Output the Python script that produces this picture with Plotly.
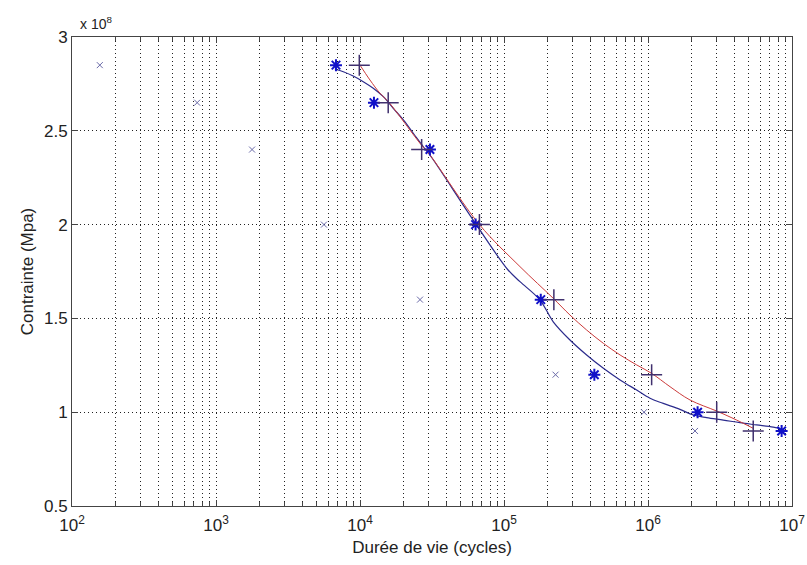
import plotly.graph_objects as go

# raw test points (small x markers)
raw_cycles = [156, 740, 1780, 5620, 26100, 228000, 938000, 2120000]
raw_stress = [2.85e8, 2.65e8, 2.40e8, 2.00e8, 1.60e8, 1.20e8, 1.00e8, 0.90e8]

# first series (stars)
star_cycles = [6810, 12500, 30600, 63500, 180000, 424000, 2210000, 8470000]
star_stress = [2.85e8, 2.65e8, 2.40e8, 2.00e8, 1.60e8, 1.20e8, 1.00e8, 0.90e8]

# second series (plus)
plus_cycles = [9890, 15700, 26800, 67500, 222000, 1060000, 3000000, 5380000]
plus_stress = [2.85e8, 2.65e8, 2.40e8, 2.00e8, 1.60e8, 1.20e8, 1.00e8, 0.90e8]

# fitted curve through the stars
blue_cycles = [6700, 7660, 8970, 10540, 12360, 14520, 17020, 20000, 23440, 27540,
               30600, 63000, 106700, 129100, 177800, 219800, 287100, 375000,
               490000, 640000, 834000, 1033000, 1276000, 1667000, 2065000,
               2553000, 3334000, 4355000, 5675000, 7413000, 8470000]
blue_stress = [2.828e8, 2.815e8, 2.792e8, 2.762e8, 2.727e8, 2.682e8, 2.620e8,
               2.558e8, 2.487e8, 2.415e8, 2.371e8, 2.009e8, 1.758e8, 1.696e8,
               1.598e8, 1.482e8, 1.385e8, 1.305e8, 1.234e8, 1.172e8, 1.118e8,
               1.074e8, 1.047e8, 1.015e8, 0.985e8, 0.971e8, 0.958e8, 0.944e8,
               0.932e8, 0.920e8, 0.909e8]

# fitted curve through the plus points
red_cycles = [9890, 11720, 13770, 15740, 18970, 22230, 26120, 30600, 67500,
              129100, 219800, 287100, 375000, 490000, 640000, 834000, 1060000,
              1422000, 1959000, 3000000, 4130000, 5380000]
red_stress = [2.856e8, 2.771e8, 2.700e8, 2.655e8, 2.575e8, 2.504e8, 2.433e8,
              2.371e8, 2.000e8, 1.776e8, 1.607e8, 1.518e8, 1.438e8, 1.367e8,
              1.305e8, 1.252e8, 1.207e8, 1.136e8, 1.065e8, 1.006e8, 0.958e8,
              0.914e8]

x_ticks = [1e2, 1e3, 1e4, 1e5, 1e6, 1e7]
x_labels = ["10<sup>2</sup>", "10<sup>3</sup>", "10<sup>4</sup>",
            "10<sup>5</sup>", "10<sup>6</sup>", "10<sup>7</sup>"]
y_ticks = [0.5e8, 1.0e8, 1.5e8, 2.0e8, 2.5e8, 3.0e8]
y_labels = ["0.5", "1", "1.5", "2", "2.5", "3"]

minor_x = [m * 10 ** d for d in range(2, 7) for m in range(2, 10)]

font_name = "Liberation Sans Narrow, Liberation Sans, Arial, sans-serif"
grid_dash = "1px,3px"

fig = go.Figure()

fig.add_trace(go.Scatter(
    x=raw_cycles, y=raw_stress, mode="markers",
    marker=dict(symbol="x-thin-open", size=6, color="#6a6aa8",
                line=dict(width=1, color="#6a6aa8")),
    showlegend=False
))
fig.add_trace(go.Scatter(
    x=blue_cycles, y=blue_stress, mode="lines",
    line=dict(color="#2b2b8c", width=1.2, shape="spline"),
    showlegend=False
))
fig.add_trace(go.Scatter(
    x=red_cycles, y=red_stress, mode="lines",
    line=dict(color="#cc3b3b", width=1, shape="spline"),
    showlegend=False
))
fig.add_trace(go.Scatter(
    x=star_cycles, y=star_stress, mode="markers",
    marker=dict(symbol="asterisk-open", size=10, color="#1010c8",
                line=dict(width=2, color="#1010c8")),
    showlegend=False
))
fig.add_trace(go.Scatter(
    x=plus_cycles, y=plus_stress, mode="markers",
    marker=dict(symbol="cross-thin-open", size=15, color="#40306e",
                line=dict(width=1.5, color="#40306e")),
    showlegend=False
))

fig.update_layout(
    width=807, height=565,
    autosize=False,
    margin=dict(l=72, r=15, t=37, b=59, autoexpand=False),
    paper_bgcolor="white",
    plot_bgcolor="white",
    font=dict(family=font_name, size=17, color="#222222"),
    annotations=[dict(
        text="x 10<sup>8</sup>", x=0, y=1, xref="paper", yref="paper",
        xanchor="left", yanchor="bottom", xshift=6, yshift=3, showarrow=False,
        font=dict(family=font_name, size=14, color="#222222")
    )]
)

fig.update_xaxes(
    type="log", range=[2, 7], automargin=False,
    tickmode="array", tickvals=x_ticks, ticktext=x_labels,
    ticks="inside", ticklen=6, tickcolor="#444444", ticklabelstandoff=4,
    showline=True, linecolor="#444444", linewidth=1, mirror="ticks",
    showgrid=True, gridcolor="#222222", gridwidth=1, griddash=grid_dash,
    minor=dict(tickmode="array", tickvals=minor_x, ticks="inside", ticklen=4,
               tickcolor="#444444", showgrid=True, gridcolor="#222222",
               griddash=grid_dash, gridwidth=1),
    title=dict(text="Durée de vie (cycles)", font=dict(size=17), standoff=6),
    zeroline=False
)
fig.update_yaxes(
    range=[0.5e8, 3.0e8], automargin=False,
    tickmode="array", tickvals=y_ticks, ticktext=y_labels,
    ticks="inside", ticklen=6, tickcolor="#444444",
    showline=True, linecolor="#444444", linewidth=1, mirror="ticks",
    showgrid=True, gridcolor="#222222", gridwidth=1, griddash=grid_dash,
    title=dict(text="Contrainte (Mpa)", font=dict(size=17), standoff=6),
    zeroline=False
)

# drop the default page margin so the figure sits at the window's corner
fig.write_html("out.html", config={"displayModeBar": False, "responsive": False},
               post_script="document.body.style.margin='0';")
